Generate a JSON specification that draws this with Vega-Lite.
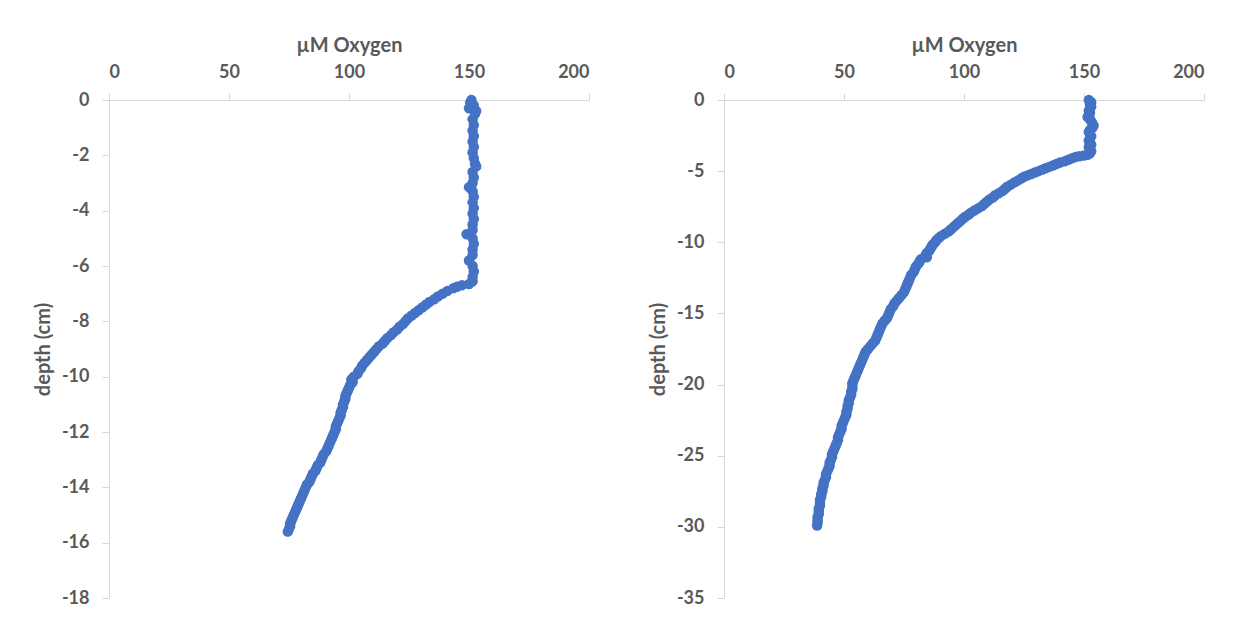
{
  "$schema": "https://vega.github.io/schema/vega-lite/v6.json",
  "padding": {"left": 33, "top": 35, "right": 5, "bottom": 5},
  "background": "white",
  "spacing": 135,
  "bounds": "flush",
  "datasets": {
    "left": [
      {"depth": 0, "oxygen": 151}, {"depth": -0.1, "oxygen": 150.5}, {"depth": -0.2, "oxygen": 152}, {"depth": -0.3, "oxygen": 150}, {"depth": -0.4, "oxygen": 153}, {"depth": -0.5, "oxygen": 152.5},
      {"depth": -0.7, "oxygen": 151.5}, {"depth": -0.9, "oxygen": 152}, {"depth": -1.1, "oxygen": 151.5}, {"depth": -1.3, "oxygen": 152}, {"depth": -1.5, "oxygen": 151.5}, {"depth": -1.7, "oxygen": 152},
      {"depth": -1.9, "oxygen": 151.5}, {"depth": -2.1, "oxygen": 152}, {"depth": -2.3, "oxygen": 152.5}, {"depth": -2.4, "oxygen": 153}, {"depth": -2.6, "oxygen": 151.5}, {"depth": -2.8, "oxygen": 152},
      {"depth": -3.0, "oxygen": 151.5}, {"depth": -3.15, "oxygen": 150}, {"depth": -3.3, "oxygen": 151.5}, {"depth": -3.5, "oxygen": 152}, {"depth": -3.7, "oxygen": 151.5}, {"depth": -3.9, "oxygen": 152},
      {"depth": -4.1, "oxygen": 151.5}, {"depth": -4.3, "oxygen": 152}, {"depth": -4.5, "oxygen": 151.5}, {"depth": -4.7, "oxygen": 151.5}, {"depth": -4.85, "oxygen": 149}, {"depth": -5.0, "oxygen": 151.5},
      {"depth": -5.2, "oxygen": 152}, {"depth": -5.4, "oxygen": 151.5}, {"depth": -5.6, "oxygen": 151.5}, {"depth": -5.8, "oxygen": 150}, {"depth": -6.0, "oxygen": 151.5}, {"depth": -6.2, "oxygen": 152},
      {"depth": -6.4, "oxygen": 151.5}, {"depth": -6.55, "oxygen": 151.5},
      {"depth": -6.65, "oxygen": 150}, {"depth": -6.7, "oxygen": 147}, {"depth": -6.75, "oxygen": 145}, {"depth": -6.8, "oxygen": 143.5}, {"depth": -6.9, "oxygen": 141}, {"depth": -7.0, "oxygen": 139},
      {"depth": -7.1, "oxygen": 137}, {"depth": -7.2, "oxygen": 135.5}, {"depth": -7.3, "oxygen": 133.5}, {"depth": -7.4, "oxygen": 132}, {"depth": -7.5, "oxygen": 130.5}, {"depth": -7.6, "oxygen": 129},
      {"depth": -7.7, "oxygen": 127.5}, {"depth": -7.8, "oxygen": 126}, {"depth": -7.9, "oxygen": 124.5}, {"depth": -8.0, "oxygen": 123.5}, {"depth": -8.1, "oxygen": 122.5}, {"depth": -8.2, "oxygen": 121},
      {"depth": -8.3, "oxygen": 120}, {"depth": -8.4, "oxygen": 118.5}, {"depth": -8.5, "oxygen": 117.5}, {"depth": -8.6, "oxygen": 116}, {"depth": -8.7, "oxygen": 115}, {"depth": -8.8, "oxygen": 114},
      {"depth": -8.9, "oxygen": 112.5}, {"depth": -9.0, "oxygen": 111.5}, {"depth": -9.1, "oxygen": 110.5}, {"depth": -9.2, "oxygen": 109.5}, {"depth": -9.3, "oxygen": 108.5}, {"depth": -9.4, "oxygen": 107.5},
      {"depth": -9.5, "oxygen": 106.5}, {"depth": -9.6, "oxygen": 105.5}, {"depth": -9.7, "oxygen": 105}, {"depth": -9.8, "oxygen": 104}, {"depth": -9.9, "oxygen": 103.5}, {"depth": -10.0, "oxygen": 102},
      {"depth": -10.1, "oxygen": 101}, {"depth": -10.2, "oxygen": 101.5}, {"depth": -10.3, "oxygen": 100.5}, {"depth": -10.4, "oxygen": 100}, {"depth": -10.5, "oxygen": 99.5}, {"depth": -10.6, "oxygen": 99},
      {"depth": -10.7, "oxygen": 98.5}, {"depth": -10.8, "oxygen": 98.5}, {"depth": -10.9, "oxygen": 98}, {"depth": -11.0, "oxygen": 97.5}, {"depth": -11.1, "oxygen": 97.5}, {"depth": -11.2, "oxygen": 97},
      {"depth": -11.3, "oxygen": 96.5}, {"depth": -11.4, "oxygen": 96.5}, {"depth": -11.5, "oxygen": 96}, {"depth": -11.6, "oxygen": 95.5}, {"depth": -11.7, "oxygen": 95}, {"depth": -11.8, "oxygen": 94.5},
      {"depth": -11.9, "oxygen": 94.5}, {"depth": -12.0, "oxygen": 94}, {"depth": -12.1, "oxygen": 93.5}, {"depth": -12.2, "oxygen": 93}, {"depth": -12.3, "oxygen": 92.5}, {"depth": -12.4, "oxygen": 92},
      {"depth": -12.5, "oxygen": 91.5}, {"depth": -12.6, "oxygen": 91}, {"depth": -12.7, "oxygen": 90.5}, {"depth": -12.8, "oxygen": 89.5}, {"depth": -12.9, "oxygen": 89}, {"depth": -13.0, "oxygen": 88.5},
      {"depth": -13.1, "oxygen": 88}, {"depth": -13.2, "oxygen": 87}, {"depth": -13.3, "oxygen": 86.5}, {"depth": -13.4, "oxygen": 86}, {"depth": -13.5, "oxygen": 85}, {"depth": -13.6, "oxygen": 84.5},
      {"depth": -13.7, "oxygen": 84}, {"depth": -13.8, "oxygen": 83.5}, {"depth": -13.9, "oxygen": 82.5}, {"depth": -14.0, "oxygen": 82}, {"depth": -14.1, "oxygen": 81.5}, {"depth": -14.2, "oxygen": 81},
      {"depth": -14.3, "oxygen": 80.5}, {"depth": -14.4, "oxygen": 80}, {"depth": -14.5, "oxygen": 79.5}, {"depth": -14.6, "oxygen": 79}, {"depth": -14.7, "oxygen": 78.5}, {"depth": -14.8, "oxygen": 78},
      {"depth": -14.9, "oxygen": 77.5}, {"depth": -15.0, "oxygen": 77}, {"depth": -15.1, "oxygen": 76.5}, {"depth": -15.2, "oxygen": 76}, {"depth": -15.3, "oxygen": 75.5}, {"depth": -15.4, "oxygen": 75.5},
      {"depth": -15.5, "oxygen": 75}, {"depth": -15.6, "oxygen": 74.5}
    ],
    "right": [
      {"depth": 0, "oxygen": 152}, {"depth": -0.15, "oxygen": 153}, {"depth": -0.3, "oxygen": 152.5}, {"depth": -0.45, "oxygen": 153}, {"depth": -0.6, "oxygen": 152.5}, {"depth": -0.75, "oxygen": 152},
      {"depth": -0.9, "oxygen": 152.5}, {"depth": -1.05, "oxygen": 152}, {"depth": -1.2, "oxygen": 151.5}, {"depth": -1.35, "oxygen": 152.5}, {"depth": -1.5, "oxygen": 153}, {"depth": -1.65, "oxygen": 153.5},
      {"depth": -1.8, "oxygen": 154}, {"depth": -1.95, "oxygen": 153.5}, {"depth": -2.1, "oxygen": 152.5}, {"depth": -2.25, "oxygen": 152}, {"depth": -2.4, "oxygen": 152.5}, {"depth": -2.55, "oxygen": 153},
      {"depth": -2.7, "oxygen": 152.5}, {"depth": -2.85, "oxygen": 152}, {"depth": -3.0, "oxygen": 152.5}, {"depth": -3.15, "oxygen": 153}, {"depth": -3.3, "oxygen": 152}, {"depth": -3.45, "oxygen": 152.5},
      {"depth": -3.6, "oxygen": 153}, {"depth": -3.75, "oxygen": 152.5}, {"depth": -3.85, "oxygen": 151.5},
      {"depth": -3.9, "oxygen": 150}, {"depth": -3.95, "oxygen": 148}, {"depth": -4.0, "oxygen": 146.5}, {"depth": -4.1, "oxygen": 145}, {"depth": -4.2, "oxygen": 143.5}, {"depth": -4.3, "oxygen": 142},
      {"depth": -4.4, "oxygen": 140}, {"depth": -4.5, "oxygen": 138.5}, {"depth": -4.6, "oxygen": 137}, {"depth": -4.7, "oxygen": 135.5}, {"depth": -4.8, "oxygen": 134}, {"depth": -4.9, "oxygen": 132.5},
      {"depth": -5.0, "oxygen": 131}, {"depth": -5.1, "oxygen": 129.5}, {"depth": -5.2, "oxygen": 128}, {"depth": -5.3, "oxygen": 126.5}, {"depth": -5.4, "oxygen": 125}, {"depth": -5.5, "oxygen": 124},
      {"depth": -5.65, "oxygen": 122.5}, {"depth": -5.8, "oxygen": 121}, {"depth": -5.95, "oxygen": 119.5}, {"depth": -6.1, "oxygen": 118}, {"depth": -6.25, "oxygen": 117}, {"depth": -6.4, "oxygen": 116},
      {"depth": -6.55, "oxygen": 114.5}, {"depth": -6.7, "oxygen": 113}, {"depth": -6.85, "oxygen": 112}, {"depth": -7.0, "oxygen": 110.5}, {"depth": -7.15, "oxygen": 109.5}, {"depth": -7.3, "oxygen": 108.5},
      {"depth": -7.45, "oxygen": 107.5}, {"depth": -7.6, "oxygen": 106}, {"depth": -7.75, "oxygen": 104.5}, {"depth": -7.9, "oxygen": 103}, {"depth": -8.05, "oxygen": 102}, {"depth": -8.2, "oxygen": 100.5},
      {"depth": -8.35, "oxygen": 99.5}, {"depth": -8.5, "oxygen": 98.5}, {"depth": -8.65, "oxygen": 97.5}, {"depth": -8.8, "oxygen": 96.5}, {"depth": -8.95, "oxygen": 95.5}, {"depth": -9.1, "oxygen": 94.5},
      {"depth": -9.25, "oxygen": 93.5}, {"depth": -9.4, "oxygen": 92}, {"depth": -9.55, "oxygen": 90.5}, {"depth": -9.7, "oxygen": 89.5}, {"depth": -9.85, "oxygen": 88.5}, {"depth": -10.0, "oxygen": 88},
      {"depth": -10.15, "oxygen": 87}, {"depth": -10.3, "oxygen": 86.5}, {"depth": -10.45, "oxygen": 86}, {"depth": -10.6, "oxygen": 85.5}, {"depth": -10.75, "oxygen": 84.5}, {"depth": -10.9, "oxygen": 84},
      {"depth": -11.05, "oxygen": 84.5}, {"depth": -11.2, "oxygen": 82}, {"depth": -11.35, "oxygen": 81.5}, {"depth": -11.5, "oxygen": 81}, {"depth": -11.7, "oxygen": 80}, {"depth": -11.9, "oxygen": 79.5},
      {"depth": -12.1, "oxygen": 79}, {"depth": -12.3, "oxygen": 78}, {"depth": -12.5, "oxygen": 77.5}, {"depth": -12.7, "oxygen": 77}, {"depth": -12.9, "oxygen": 76.5}, {"depth": -13.1, "oxygen": 76},
      {"depth": -13.3, "oxygen": 75.5}, {"depth": -13.5, "oxygen": 75}, {"depth": -13.7, "oxygen": 74}, {"depth": -13.9, "oxygen": 73}, {"depth": -14.1, "oxygen": 72}, {"depth": -14.3, "oxygen": 71},
      {"depth": -14.5, "oxygen": 70.5}, {"depth": -14.7, "oxygen": 69.5}, {"depth": -14.9, "oxygen": 69}, {"depth": -15.1, "oxygen": 68.5}, {"depth": -15.3, "oxygen": 68}, {"depth": -15.5, "oxygen": 67},
      {"depth": -15.7, "oxygen": 66}, {"depth": -15.9, "oxygen": 65.5}, {"depth": -16.1, "oxygen": 65}, {"depth": -16.3, "oxygen": 64.5}, {"depth": -16.5, "oxygen": 64}, {"depth": -16.7, "oxygen": 63.5},
      {"depth": -16.9, "oxygen": 63}, {"depth": -17.1, "oxygen": 62}, {"depth": -17.3, "oxygen": 61}, {"depth": -17.5, "oxygen": 60}, {"depth": -17.7, "oxygen": 59}, {"depth": -17.9, "oxygen": 58.5},
      {"depth": -18.1, "oxygen": 58}, {"depth": -18.3, "oxygen": 57.5}, {"depth": -18.5, "oxygen": 57}, {"depth": -18.7, "oxygen": 56.5}, {"depth": -18.9, "oxygen": 56}, {"depth": -19.1, "oxygen": 55.5},
      {"depth": -19.3, "oxygen": 55}, {"depth": -19.5, "oxygen": 54.5}, {"depth": -19.7, "oxygen": 54}, {"depth": -19.9, "oxygen": 53.5}, {"depth": -20.1, "oxygen": 53.5}, {"depth": -20.3, "oxygen": 53.5},
      {"depth": -20.5, "oxygen": 53}, {"depth": -20.7, "oxygen": 53}, {"depth": -20.9, "oxygen": 52.5}, {"depth": -21.1, "oxygen": 52}, {"depth": -21.3, "oxygen": 52}, {"depth": -21.5, "oxygen": 51.5},
      {"depth": -21.7, "oxygen": 51.5}, {"depth": -21.9, "oxygen": 51}, {"depth": -22.1, "oxygen": 51}, {"depth": -22.3, "oxygen": 50.5}, {"depth": -22.5, "oxygen": 50}, {"depth": -22.7, "oxygen": 49.5},
      {"depth": -22.9, "oxygen": 49}, {"depth": -23.1, "oxygen": 49}, {"depth": -23.3, "oxygen": 48.5}, {"depth": -23.5, "oxygen": 48}, {"depth": -23.7, "oxygen": 47.5}, {"depth": -23.9, "oxygen": 47.5},
      {"depth": -24.1, "oxygen": 47}, {"depth": -24.3, "oxygen": 46.5}, {"depth": -24.5, "oxygen": 46}, {"depth": -24.7, "oxygen": 45.5}, {"depth": -24.9, "oxygen": 45}, {"depth": -25.1, "oxygen": 45},
      {"depth": -25.3, "oxygen": 44.5}, {"depth": -25.5, "oxygen": 44}, {"depth": -25.7, "oxygen": 44}, {"depth": -25.9, "oxygen": 43.5}, {"depth": -26.1, "oxygen": 43}, {"depth": -26.3, "oxygen": 42.5},
      {"depth": -26.5, "oxygen": 42.5}, {"depth": -26.7, "oxygen": 42}, {"depth": -26.9, "oxygen": 41.5}, {"depth": -27.1, "oxygen": 41.5}, {"depth": -27.3, "oxygen": 41}, {"depth": -27.5, "oxygen": 41},
      {"depth": -27.7, "oxygen": 40.5}, {"depth": -27.9, "oxygen": 40.5}, {"depth": -28.1, "oxygen": 40}, {"depth": -28.3, "oxygen": 40}, {"depth": -28.5, "oxygen": 40}, {"depth": -28.7, "oxygen": 39.5},
      {"depth": -28.9, "oxygen": 39.5}, {"depth": -29.1, "oxygen": 39.5}, {"depth": -29.3, "oxygen": 39}, {"depth": -29.5, "oxygen": 39}, {"depth": -29.7, "oxygen": 39}, {"depth": -29.9, "oxygen": 38.8}
    ]
  },
  "hconcat": [
    {
      "width": 480,
      "height": 498,
      "data": {"name": "left"},
      "mark": {"type": "point", "filled": true, "opacity": 1, "size": 110, "color": "#4472C4"},
      "encoding": {
        "x": {"field": "oxygen", "type": "quantitative", "scale": {"domain": [0, 200], "nice": false}, "axis": {"orient": "top", "values": [0, 50, 100, 150, 200], "title": "µM Oxygen", "labelPadding": 12}},
        "y": {"field": "depth", "type": "quantitative", "scale": {"domain": [-18, 0], "nice": false, "zero": false}, "axis": {"values": [0, -2, -4, -6, -8, -10, -12, -14, -16, -18], "title": "depth (cm)", "labelPadding": 13}}
      }
    },
    {
      "width": 480,
      "height": 498,
      "data": {"name": "right"},
      "mark": {"type": "point", "filled": true, "opacity": 1, "size": 110, "color": "#4472C4"},
      "encoding": {
        "x": {"field": "oxygen", "type": "quantitative", "scale": {"domain": [0, 200], "nice": false}, "axis": {"orient": "top", "values": [0, 50, 100, 150, 200], "title": "µM Oxygen", "labelPadding": 12}},
        "y": {"field": "depth", "type": "quantitative", "scale": {"domain": [-35, 0], "nice": false, "zero": false}, "axis": {"values": [0, -5, -10, -15, -20, -25, -30, -35], "title": "depth (cm)", "labelPadding": 13}}
      }
    }
  ],
  "config": {
    "view": {"stroke": null},
    "locale": {"number": {"decimal": ".", "thousands": ",", "grouping": [3], "currency": ["$", ""], "minus": "-"}},
    "axis": {
      "grid": false,
      "labelFont": "Lato", "labelFontSize": 18, "labelFontWeight": "bold", "labelColor": "#595959",
      "titleFont": "Lato", "titleFontSize": 20, "titleFontWeight": "bold", "titleColor": "#595959",
      "domainColor": "#d9d9d9", "tickColor": "#d9d9d9", "tickSize": 7, "labelPadding": 8, "titlePadding": 8
    }
  }
}
